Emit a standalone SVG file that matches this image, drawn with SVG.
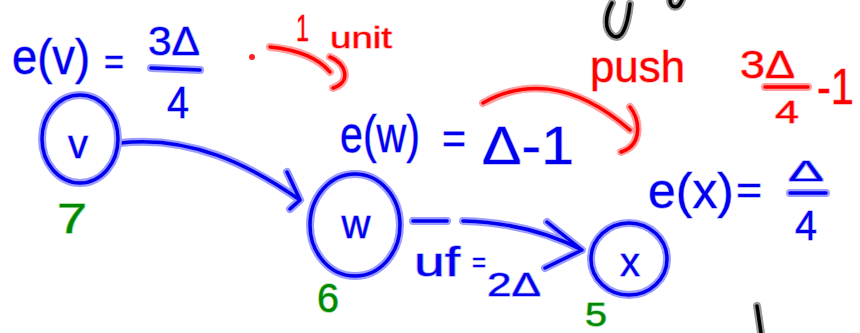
<svg xmlns="http://www.w3.org/2000/svg" width="860" height="333" viewBox="0 0 860 333">
<style>
text{font-family:"Liberation Sans","DejaVu Sans",sans-serif;paint-order:stroke;stroke-linejoin:round}
.b{fill:#0000ee;stroke:#b4b4ff;stroke-width:1.5}
.r{fill:#ff0000;stroke:#ffb4b4;stroke-width:1.5}
.g{fill:#008800;stroke:#a0d8a0;stroke-width:1.5}
.hb{fill:none;stroke:#9d9dff;stroke-width:8;stroke-linecap:round;stroke-linejoin:round}
.cb{fill:none;stroke:#0000ee;stroke-width:3.5;stroke-linecap:round;stroke-linejoin:round}
.hr{fill:none;stroke:#ffa0a0;stroke-width:8;stroke-linecap:round;stroke-linejoin:round}
.cr{fill:none;stroke:#ff0000;stroke-width:3.5;stroke-linecap:round;stroke-linejoin:round}
.hk{fill:none;stroke:#999;stroke-width:8;stroke-linecap:round;stroke-linejoin:round}
.ck{fill:none;stroke:#000;stroke-width:3.5;stroke-linecap:round;stroke-linejoin:round}
.m{text-anchor:middle}
</style>
<rect width="860" height="333" fill="#fff"/>

<g id="black-fragments">
<path class="hk" d="M612,3 C605,15 604,30 613,36 C621,40 627,30 630,4"/>
<path class="ck" d="M612,3 C605,15 604,30 613,36 C621,40 627,30 630,4"/>
<path class="hk" d="M670,0 C670,8 678,10 682,0"/>
<path class="ck" d="M670,0 C670,8 678,10 682,0"/>
<path class="hk" d="M757,306 L761,333"/>
<path class="ck" d="M757,306 L761,333"/>
</g>

<g id="connectors">
<path class="hb" d="M120,143 C190,135 250,165 300,200 M287,172 L300,200 L290,209"/>
<path class="cb" d="M120,143 C190,135 250,165 300,200 M287,172 L300,200 L290,209"/>
<path class="hb" d="M413,221 L447,221 M463,221 C500,222 540,228 582,250 M547,222 L582,250 L545,268"/>
<path class="cb" d="M413,221 L447,221 M463,221 C500,222 540,228 582,250 M547,222 L582,250 L545,268"/>
<path class="hr" d="M270,47 C300,50 320,60 330,72 M330,57 C346,63 352,82 333,88"/>
<path class="cr" d="M270,47 C300,50 320,60 330,72 M330,57 C346,63 352,82 333,88"/>
<path class="hr" d="M483,103 C520,82 570,78 630,130 M630,107 C640,120 643,145 621,152"/>
<path class="cr" d="M483,103 C520,82 570,78 630,130 M630,107 C640,120 643,145 621,152"/>
<circle cx="252" cy="57" r="3" fill="#ff2020"/>
</g>

<g id="label-ev">
<text class="b" x="12" y="74" font-size="50" textLength="78" lengthAdjust="spacingAndGlyphs">e(v)</text>
<text class="b" x="104" y="74" font-size="36" textLength="20" lengthAdjust="spacingAndGlyphs">=</text>
<text class="b" x="148" y="55" font-size="40" textLength="52" lengthAdjust="spacingAndGlyphs">3Δ</text>
<path class="hb" d="M151,68 L200,70"/><path class="cb" d="M151,68 L200,70"/>
<text class="b" x="167" y="118" font-size="44" textLength="22" lengthAdjust="spacingAndGlyphs">4</text>
</g>

<g id="label-unit">
<text class="r" x="296" y="41" font-size="36" textLength="13" lengthAdjust="spacingAndGlyphs">1</text>
<text class="r" x="330" y="48" font-size="30" textLength="62" lengthAdjust="spacingAndGlyphs">unit</text>
</g>

<g id="label-push">
<text class="r" x="590" y="82" font-size="44" textLength="95" lengthAdjust="spacingAndGlyphs">push</text>
<text class="r" x="740" y="78" font-size="38" textLength="55" lengthAdjust="spacingAndGlyphs">3Δ</text>
<path class="hr" d="M765,87 L808,87"/><path class="cr" d="M765,87 L808,87"/>
<text class="r" x="775" y="123" font-size="32" textLength="24" lengthAdjust="spacingAndGlyphs">4</text>
<text class="r" x="817" y="104" font-size="50" textLength="37" lengthAdjust="spacingAndGlyphs">-1</text>
</g>

<g id="label-ew">
<text class="b" x="340" y="152" font-size="52" textLength="80" lengthAdjust="spacingAndGlyphs">e(w)</text>
<text class="b" x="442" y="154" font-size="44" textLength="24" lengthAdjust="spacingAndGlyphs">=</text>
<text class="b" x="482" y="164" font-size="54" textLength="92" lengthAdjust="spacingAndGlyphs">Δ-1</text>
</g>

<g id="label-ex">
<text class="b" x="648" y="208" font-size="50" textLength="86" lengthAdjust="spacingAndGlyphs">e(x)</text>
<text class="b" x="736" y="204" font-size="40" textLength="26" lengthAdjust="spacingAndGlyphs">=</text>
<text class="b" x="788" y="181" font-size="30" textLength="36" lengthAdjust="spacingAndGlyphs">Δ</text>
<path class="hb" d="M790,193 L826,193"/><path class="cb" d="M790,193 L826,193"/>
<text class="b" x="795" y="240" font-size="42" textLength="22" lengthAdjust="spacingAndGlyphs">4</text>
</g>

<g id="label-uf">
<text class="b" x="414" y="276" font-size="40" textLength="46" lengthAdjust="spacingAndGlyphs">uf</text>
<text class="b" x="472" y="272" font-size="28" textLength="14" lengthAdjust="spacingAndGlyphs">=</text>
<text class="b" x="487" y="296" font-size="34" textLength="54" lengthAdjust="spacingAndGlyphs">2Δ</text>
</g>

<g id="node-v">
<ellipse class="hb" cx="80" cy="139" rx="38" ry="44"/>
<ellipse class="cb" cx="80" cy="139" rx="38" ry="44"/>
<text class="b m" x="78" y="158" font-size="40">v</text>
<text class="g" x="57" y="233" font-size="42" textLength="30" lengthAdjust="spacingAndGlyphs">7</text>
</g>

<g id="node-w">
<ellipse class="hb" cx="355" cy="225" rx="45" ry="51"/>
<ellipse class="cb" cx="355" cy="225" rx="45" ry="51"/>
<text class="b m" x="356" y="238" font-size="40">w</text>
<text class="g" x="317" y="312" font-size="40" textLength="22" lengthAdjust="spacingAndGlyphs">6</text>
</g>

<g id="node-x">
<ellipse class="hb" cx="629" cy="259" rx="38" ry="36"/>
<ellipse class="cb" cx="629" cy="259" rx="38" ry="36"/>
<text class="b m" x="630" y="276" font-size="40">x</text>
<text class="g" x="585" y="326" font-size="34" textLength="22" lengthAdjust="spacingAndGlyphs">5</text>
</g>
</svg>
